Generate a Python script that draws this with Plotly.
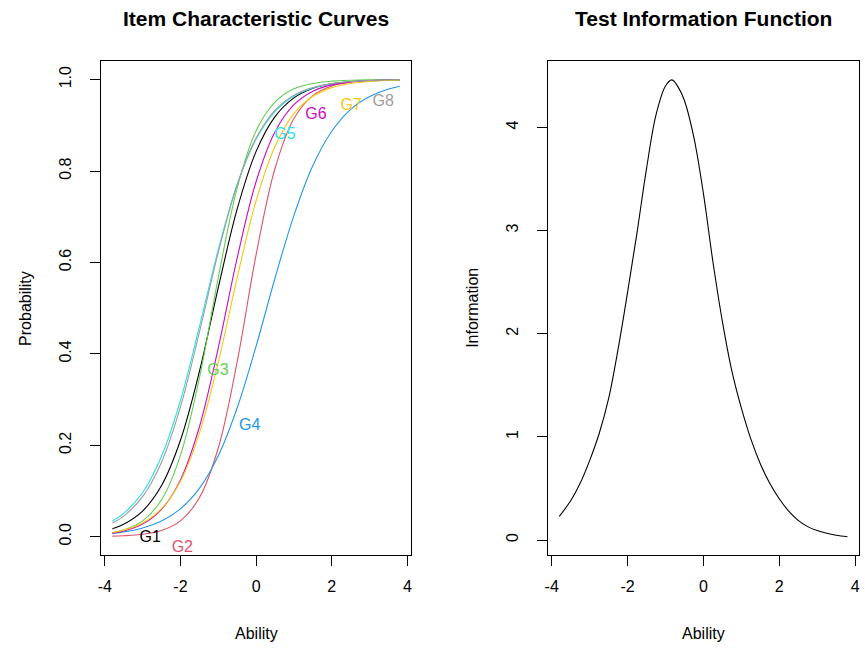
import plotly.graph_objects as go

# ---- data ----
ability = [-3.8, -3.5, -3.0, -2.5, -2.0, -1.5, -1.0, -0.5, 0.0, 0.5, 1.0, 1.5, 2.0, 2.5, 3.0, 3.5, 3.8]

G1 = [0.0176, 0.0274, 0.0562, 0.112, 0.211, 0.361, 0.545, 0.717, 0.843, 0.919, 0.960, 0.981, 0.991, 0.9956, 0.9979, 0.9990, 0.9994]
G2 = [0.0012, 0.0021, 0.0054, 0.0137, 0.0347, 0.0851, 0.194, 0.383, 0.617, 0.806, 0.915, 0.965, 0.986, 0.9946, 0.9979, 0.9992, 0.9995]
G3 = [0.0084, 0.0144, 0.0346, 0.0809, 0.178, 0.347, 0.567, 0.763, 0.888, 0.951, 0.980, 0.9916, 0.9966, 0.9986, 0.9994, 0.9998, 0.9999]
G4 = [0.0074, 0.0106, 0.0192, 0.0344, 0.0609, 0.1056, 0.177, 0.282, 0.417, 0.566, 0.703, 0.812, 0.887, 0.935, 0.963, 0.9795, 0.9856]
G5 = [0.0342, 0.0509, 0.0966, 0.176, 0.298, 0.459, 0.628, 0.771, 0.870, 0.930, 0.964, 0.9815, 0.9907, 0.9953, 0.9976, 0.9988, 0.9992]
G6 = [0.0079, 0.0127, 0.0279, 0.060, 0.1243, 0.240, 0.413, 0.610, 0.777, 0.886, 0.945, 0.9746, 0.9884, 0.9948, 0.9976, 0.9989, 0.9993]
G7 = [0.0092, 0.0144, 0.0299, 0.0612, 0.1213, 0.226, 0.382, 0.567, 0.735, 0.854, 0.9255, 0.9634, 0.9824, 0.9916, 0.996, 0.9981, 0.9988]
G8 = [0.0299, 0.0451, 0.0876, 0.163, 0.284, 0.447, 0.622, 0.770, 0.872, 0.933, 0.966, 0.9828, 0.9915, 0.9958, 0.9979, 0.999, 0.9993]

item_names = ["G1", "G2", "G3", "G4", "G5", "G6", "G7", "G8"]
item_curves = [G1, G2, G3, G4, G5, G6, G7, G8]
item_colors = ["#000000", "#DF536B", "#61D04F", "#2297E6", "#28E2E5", "#CD0BBC", "#F5C710", "#9E9E9E"]

label_x = [-2.80, -1.95, -1.01, -0.17, 0.76, 1.58, 2.51, 3.36]
label_y = [-0.002, -0.024, 0.363, 0.242, 0.878, 0.923, 0.943, 0.951]

info_ability = [-3.8, -3.5, -3.25, -3.0, -2.75, -2.5, -2.25, -2.0, -1.75, -1.5, -1.25, -1.0, -0.83, -0.65,
                -0.5, -0.25, 0.0, 0.25, 0.5, 0.75, 1.0, 1.25, 1.5, 1.75, 2.0, 2.25, 2.5, 2.75,
                3.0, 3.25, 3.5, 3.8]
information = [0.23, 0.38, 0.55, 0.77, 1.03, 1.37, 1.85, 2.40, 2.98, 3.60, 4.12, 4.40, 4.46, 4.38,
               4.26, 3.90, 3.36, 2.70, 2.12, 1.64, 1.28, 0.98, 0.74, 0.55, 0.40, 0.28, 0.19, 0.13,
               0.092, 0.066, 0.047, 0.032]

x_ticks = [-4, -2, 0, 2, 4]
x_tick_text = ["-4", "-2", "0", "2", "4"]
prob_ticks = [0.0, 0.2, 0.4, 0.6, 0.8, 1.0]
prob_tick_text = ["0.0", "0.2", "0.4", "0.6", "0.8", "1.0"]
info_ticks = [0, 1, 2, 3, 4]
info_tick_text = ["0", "1", "2", "3", "4"]

# ---- figure ----
FONT = "Liberation Sans, Arial, Helvetica, sans-serif"
W, H = 865, 648
fig = go.Figure()

for name, ys, col in zip(item_names, item_curves, item_colors):
    fig.add_trace(go.Scatter(x=ability, y=ys, mode="lines", name=name,
                             line=dict(color=col, width=1.1, shape="spline"),
                             xaxis="x", yaxis="y", showlegend=False, hoverinfo="skip"))

fig.add_trace(go.Scatter(x=label_x, y=label_y, mode="text", text=item_names,
                         textposition="middle center",
                         textfont=dict(family=FONT, size=16, color=item_colors),
                         xaxis="x", yaxis="y", showlegend=False, cliponaxis=False,
                         hoverinfo="skip"))

fig.add_trace(go.Scatter(x=info_ability, y=information, mode="lines",
                         line=dict(color="#000000", width=1.1, shape="spline"),
                         xaxis="x2", yaxis="y2", showlegend=False, hoverinfo="skip"))

yb0, yb1 = 1 - 555 / H, 1 - 61.3 / H
axis_common = dict(showline=True, mirror=True, linecolor="black", linewidth=1,
                   ticks="outside", ticklen=10, tickwidth=1, tickcolor="black",
                   showgrid=False, zeroline=False,
                   tickfont=dict(family=FONT, size=16, color="black"))

fig.update_layout(
    width=W, height=H, margin=dict(l=0, r=0, t=0, b=0),
    paper_bgcolor="white", plot_bgcolor="white",
    xaxis=dict(domain=[98.3 / W, 410.3 / W], range=[-4.104, 4.104], tickvals=x_ticks,
               ticktext=x_tick_text, anchor="y", ticklabelstandoff=7, **axis_common),
    yaxis=dict(domain=[yb0, yb1], range=[-0.04, 1.04], tickvals=prob_ticks,
               ticktext=prob_tick_text, tickangle=-90, anchor="x",
               ticklabelstandoff=12, **axis_common),
    xaxis2=dict(domain=[547.3 / W, 860 / W], range=[-4.104, 4.104], tickvals=x_ticks,
                ticktext=x_tick_text, anchor="y2", ticklabelstandoff=7, **axis_common),
    yaxis2=dict(domain=[yb0, yb1], range=[-0.145, 4.64], tickvals=info_ticks,
                ticktext=info_tick_text, tickangle=-90, anchor="x2",
                ticklabelstandoff=12, **axis_common),
)

annots = [
    dict(text="<b>Item Characteristic Curves</b>", x=254.3 / W, y=1 - 18 / H, size=21),
    dict(text="<b>Test Information Function</b>", x=703.6 / W, y=1 - 18 / H, size=21),
    dict(text="Ability", x=254.3 / W, y=1 - 633 / H, size=16),
    dict(text="Ability", x=703.6 / W, y=1 - 633 / H, size=16),
    dict(text="Probability", x=22 / W, y=1 - 308 / H, size=16, angle=-90),
    dict(text="Information", x=471 / W, y=1 - 308 / H, size=16, angle=-90),
]
for a in annots:
    fig.add_annotation(text=a["text"], x=a["x"], y=a["y"], xref="paper", yref="paper",
                       xanchor="center", yanchor="middle", showarrow=False,
                       textangle=a.get("angle", 0),
                       font=dict(family=FONT, size=a["size"], color="black"))

fig.write_html("out.html", config={"displayModeBar": False},
               post_script="document.body.style.margin='0';document.body.style.overflow='hidden';")
